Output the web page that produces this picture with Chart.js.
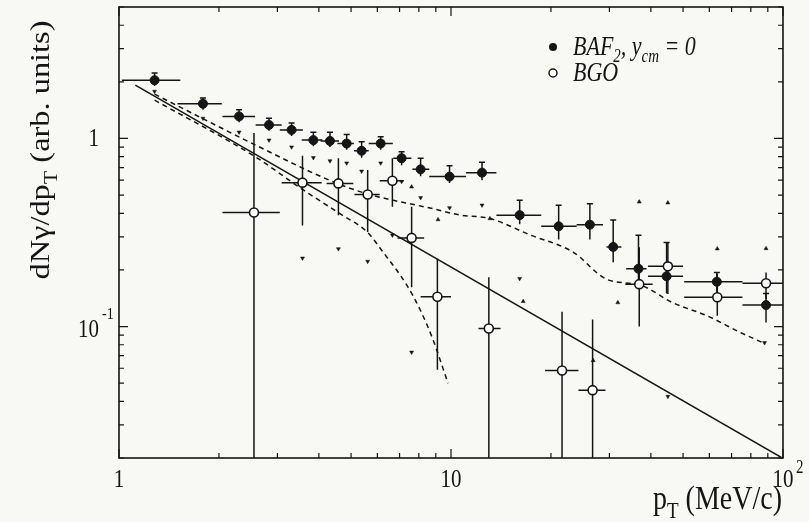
<!DOCTYPE html>
<html>
<head>
<meta charset="utf-8">
<script src="https://cdn.jsdelivr.net/npm/chart.js@4.4.1/dist/chart.umd.min.js"></script>
<style>
html, body { margin: 0; padding: 0; background: #f8f8f5; }
#wrap { width: 809px; height: 522px; position: relative; }
</style>
</head>
<body>
<div id="wrap"><canvas id="spectrum"></canvas></div>
<script>
// BaF2, y_cm = 0 (filled)
var bafX   = [1.28, 1.79, 2.30, 2.83, 3.31, 3.85, 4.32, 4.85, 5.38, 6.14, 7.10, 8.10, 9.90, 12.4, 16.1, 21.1, 26.2, 30.8, 36.7, 44.6, 63.2, 88.9];
var bafY   = [2.04, 1.53, 1.31, 1.18, 1.11, 0.98, 0.97, 0.94, 0.86, 0.94, 0.785, 0.685, 0.627, 0.658, 0.391, 0.341, 0.348, 0.265, 0.203, 0.185, 0.173, 0.13];
var bafXLo = [1.02, 1.50, 2.05, 2.58, 3.05, 3.55, 4.05, 4.55, 5.10, 5.65, 6.70, 7.65, 8.60, 11.1, 13.7, 18.7, 23.9, 29.4, 33.7, 39.2, 50.4, 75.5];
var bafXHi = [1.53, 2.04, 2.57, 3.09, 3.58, 4.10, 4.60, 5.10, 5.65, 6.68, 7.60, 8.60, 11.1, 13.7, 18.7, 23.9, 28.7, 32.6, 38.8, 50.0, 75.5, 100];
var bafYLo = [1.90, 1.42, 1.22, 1.10, 1.03, 0.91, 0.90, 0.87, 0.79, 0.87, 0.72, 0.63, 0.58, 0.60, 0.35, 0.29, 0.29, 0.22, 0.17, 0.15, 0.14, 0.105];
var bafYHi = [2.23, 1.64, 1.42, 1.28, 1.21, 1.08, 1.08, 1.05, 0.96, 1.02, 0.85, 0.785, 0.717, 0.747, 0.47, 0.442, 0.45, 0.368, 0.306, 0.28, 0.194, 0.15];

// BGO (open)
var bgoX   = [2.55, 3.57, 4.58, 5.61, 6.66, 7.61, 9.10, 13.0, 21.6, 26.7, 36.9, 45.0, 63.4, 88.9];
var bgoY   = [0.404, 0.582, 0.577, 0.504, 0.596, 0.296, 0.144, 0.0976, 0.0584, 0.0459, 0.168, 0.209, 0.143, 0.17];
var bgoXLo = [2.05, 3.09, 4.22, 5.12, 6.10, 6.90, 8.10, 12.1, 19.2, 24.2, 33.5, 39.2, 50.4, 75.5];
var bgoXHi = [3.05, 4.08, 5.08, 6.10, 7.20, 8.30, 10.0, 14.1, 24.2, 29.2, 40.5, 50.0, 75.5, 100];
var bgoYLo = [0.015, 0.345, 0.39, 0.318, 0.433, 0.162, 0.059, 0.015, 0.015, 0.015, 0.10, 0.149, 0.114, 0.14];
var bgoYHi = [1.07, 0.81, 0.785, 0.68, 0.785, 0.433, 0.229, 0.183, 0.12, 0.109, 0.264, 0.28, 0.19, 0.194];

// systematic limits
var sysUpX = [7.61, 9.14, 13.1, 16.5, 26.8, 31.8, 36.9, 45.0, 63.4, 88.9];
var sysUpY = [0.553, 0.37, 0.375, 0.136, 0.066, 0.134, 0.46, 0.455, 0.259, 0.26];
var sysLoX = [1.28, 1.79, 2.30, 2.83, 3.31, 3.85, 4.32, 4.85, 5.38, 6.14, 7.10, 8.10, 9.90, 12.4, 16.1, 3.57, 4.58, 5.61, 6.66, 7.61, 45.0, 88.0];
var sysLoY = [1.78, 1.28, 1.08, 0.98, 0.90, 0.79, 0.76, 0.74, 0.67, 0.74, 0.59, 0.484, 0.428, 0.442, 0.18, 0.231, 0.259, 0.222, 0.306, 0.073, 0.0425, 0.082];

// power-law fit
var powerX = [1.12, 100];
var powerY = [1.92, 0.0199];
// dashed curves
var flatX = [1.28, 2.57, 4.41, 5.59, 8.83, 10.6, 13.1, 17.3, 23.3, 29.5, 37.2, 46.5, 59.1, 74.4, 87.0];
var flatY = [1.72, 0.925, 0.589, 0.508, 0.423, 0.392, 0.375, 0.307, 0.249, 0.178, 0.166, 0.134, 0.114, 0.093, 0.082];
var cutX = [1.28, 2.57, 3.58, 4.64, 5.59, 6.24, 7.36, 8.07, 8.83, 9.79];
var cutY = [1.60, 0.80, 0.534, 0.397, 0.318, 0.249, 0.166, 0.123, 0.085, 0.050];

var xTicks = [1, 10, 100];
var yTicks = [0.1, 1];

var INK = '#151515';
var SERIF = '"Liberation Serif", "Times New Roman", serif';
var STRETCH = 1.2;

function pts(xs, ys) {
    return xs.map(function(x, i) { return {x: x, y: ys[i]}; });
}

// text pieces with sub/superscripts
function richText(ctx, parts, x, y, size, style, align) {
    var w = 0;
    parts.forEach(function(p) {
        var s = p[1] ? size * 0.68 : size;
        ctx.font = style + ' ' + s + 'px ' + SERIF;
        p.w = ctx.measureText(p[0]).width;
        w += p.w;
    });
    var cx = align === 'right' ? x - w : (align === 'center' ? x - w / 2 : x);
    parts.forEach(function(p) {
        var s = p[1] ? size * 0.68 : size;
        var dy = p[1] === 'sub' ? size * 0.28 : (p[1] === 'sup' ? -size * 0.42 : 0);
        ctx.font = style + ' ' + s + 'px ' + SERIF;
        ctx.fillText(p[0], cx, y + dy);
        cx += p.w;
    });
}

function errorBars(chart, xs, ys, xlo, xhi, ylo, yhi, cap) {
    var sx = chart.scales.x, sy = chart.scales.y, ctx = chart.ctx;
    ctx.beginPath();
    for (var i = 0; i < xs.length; i++) {
        var px = sx.getPixelForValue(xs[i]), py = sy.getPixelForValue(ys[i]);
        var top = sy.getPixelForValue(yhi[i]), bot = sy.getPixelForValue(ylo[i]);
        ctx.moveTo(sx.getPixelForValue(xlo[i]), py);
        ctx.lineTo(sx.getPixelForValue(xhi[i]), py);
        ctx.moveTo(px, top);
        ctx.lineTo(px, bot);
        if (cap) {
            ctx.moveTo(px - cap, top);
            ctx.lineTo(px + cap, top);
        }
    }
    ctx.stroke();
}

var bgPlugin = {
    id: 'paper',
    beforeDraw: function(chart) {
        var ctx = chart.ctx;
        ctx.save();
        ctx.fillStyle = '#f8f8f5';
        ctx.fillRect(0, 0, chart.width, chart.height);
        ctx.restore();
    }
};

var barsPlugin = {
    id: 'bars',
    beforeDatasetsDraw: function(chart) {
        var a = chart.chartArea, ctx = chart.ctx;
        ctx.save();
        ctx.beginPath();
        ctx.rect(a.left, a.top, a.right - a.left, a.bottom - a.top);
        ctx.clip();
        ctx.strokeStyle = INK;
        ctx.lineWidth = 1.5;
        errorBars(chart, bafX, bafY, bafXLo, bafXHi, bafYLo, bafYHi, 3);
        errorBars(chart, bgoX, bgoY, bgoXLo, bgoXHi, bgoYLo, bgoYHi, 0);
        ctx.restore();
    }
};

var framePlugin = {
    id: 'frame',
    afterDatasetsDraw: function(chart) {
        var a = chart.chartArea, ctx = chart.ctx;
        var sx = chart.scales.x, sy = chart.scales.y;
        ctx.save();
        ctx.strokeStyle = INK;
        ctx.lineWidth = 1.6;
        ctx.strokeRect(a.left, a.top, a.right - a.left, a.bottom - a.top);
        ctx.lineWidth = 1.2;
        ctx.beginPath();
        // x: decades 1..100
        [1, 10].forEach(function(d) {
            for (var k = 1; k <= 10; k++) {
                var v = k * d;
                if (v > 100) continue;
                var len = (k === 1 || k === 10) ? 9 : 5;
                var px = sx.getPixelForValue(v);
                ctx.moveTo(px, a.bottom); ctx.lineTo(px, a.bottom - len);
                ctx.moveTo(px, a.top); ctx.lineTo(px, a.top + len);
            }
        });
        // y: 0.02..5
        [0.01, 0.1, 1].forEach(function(d) {
            for (var k = 1; k <= 9; k++) {
                var v = k * d;
                if (v < 0.02 || v > 5) continue;
                var len = k === 1 ? 9 : 5;
                var py = sy.getPixelForValue(v);
                ctx.moveTo(a.left, py); ctx.lineTo(a.left + len, py);
                ctx.moveTo(a.right, py); ctx.lineTo(a.right - len, py);
            }
        });
        ctx.stroke();
        ctx.restore();
    },
    afterDraw: function(chart) {
        var ctx = chart.ctx, sx = chart.scales.x, sy = chart.scales.y;
        ctx.save();
        ctx.fillStyle = INK;
        ctx.textBaseline = 'alphabetic';

        // tick labels
        xTicks.forEach(function(v) {
            var px = sx.getPixelForValue(v);
            ctx.save();
            ctx.translate(px, 487);
            ctx.scale(1, STRETCH);
            if (v === 100) {
                richText(ctx, [['10']], 0, 0, 21, 'normal', 'center');
                richText(ctx, [['2']], 13, -12, 15, 'normal', 'left');
            } else {
                richText(ctx, [[String(v)]], 0, 0, 21, 'normal', 'center');
            }
            ctx.restore();
        });
        yTicks.forEach(function(v) {
            var py = sy.getPixelForValue(v);
            ctx.save();
            ctx.translate(99, py + 8);
            ctx.scale(1, STRETCH);
            if (v === 1) {
                richText(ctx, [['1']], 0, 0, 21, 'normal', 'right');
            } else {
                richText(ctx, [['10']], 0, 2, 21, 'normal', 'right');
                richText(ctx, [['-1']], 3, -13, 14, 'normal', 'left');
            }
            ctx.restore();
        });

        // axis titles
        ctx.save();
        ctx.translate(782, 509);
        ctx.scale(1, STRETCH);
        richText(ctx, [['p'], ['T', 'sub'], [' (MeV/c)']], 0, 0, 28, 'normal', 'right');
        ctx.restore();

        ctx.save();
        ctx.translate(49, 150);
        ctx.rotate(-Math.PI / 2);
        ctx.scale(STRETCH, 1);
        richText(ctx, [['dN\u03b3/dp'], ['T', 'sub'], [' (arb. units)']], 0, 0, 27, 'normal', 'center');
        ctx.restore();

        // legend
        ctx.beginPath();
        ctx.arc(553, 47, 4, 0, Math.PI * 2);
        ctx.fill();
        ctx.beginPath();
        ctx.arc(553, 73, 4, 0, Math.PI * 2);
        ctx.fillStyle = '#ffffff';
        ctx.fill();
        ctx.lineWidth = 1.5;
        ctx.strokeStyle = INK;
        ctx.stroke();
        ctx.fillStyle = INK;
        ctx.save();
        ctx.translate(573, 55);
        ctx.scale(1, STRETCH);
        richText(ctx, [['BAF'], ['2', 'sub'], [', y'], ['cm', 'sub'], [' = 0']], 0, 0, 22, 'italic', 'left');
        ctx.restore();
        ctx.save();
        ctx.translate(573, 81);
        ctx.scale(1, STRETCH);
        richText(ctx, [['BGO']], 0, 0, 22, 'italic', 'left');
        ctx.restore();

        ctx.restore();
    }
};

var ctx = document.getElementById('spectrum').getContext('2d');
var spectrumChart = new Chart(ctx, {
    type: 'scatter',
    data: {
        datasets: [{
            label: 'BAF2, y_cm = 0',
            data: pts(bafX, bafY),
            pointRadius: 4.5,
            pointBackgroundColor: INK,
            pointBorderColor: INK,
            pointBorderWidth: 1,
            order: 0
        }, {
            label: 'BGO',
            data: pts(bgoX, bgoY),
            pointRadius: 4.5,
            pointBackgroundColor: '#ffffff',
            pointBorderColor: INK,
            pointBorderWidth: 1.6,
            order: 0
        }, {
            label: 'syst up',
            data: pts(sysUpX, sysUpY),
            pointStyle: 'triangle',
            pointRadius: 2.3,
            pointBackgroundColor: INK,
            pointBorderColor: INK,
            pointBorderWidth: 0.5,
            order: 1
        }, {
            label: 'syst low',
            data: pts(sysLoX, sysLoY),
            pointStyle: 'triangle',
            rotation: 180,
            pointRadius: 2.3,
            pointBackgroundColor: INK,
            pointBorderColor: INK,
            pointBorderWidth: 0.5,
            order: 1
        }, {
            label: 'power law',
            data: pts(powerX, powerY),
            showLine: true,
            borderColor: INK,
            borderWidth: 1.5,
            pointRadius: 0,
            order: 2
        }, {
            label: 'flat',
            data: pts(flatX, flatY),
            showLine: true,
            borderColor: INK,
            borderWidth: 1.5,
            borderDash: [5, 4],
            pointRadius: 0,
            cubicInterpolationMode: 'monotone',
            order: 2
        }, {
            label: 'cutoff',
            data: pts(cutX, cutY),
            showLine: true,
            borderColor: INK,
            borderWidth: 1.5,
            borderDash: [5, 4],
            pointRadius: 0,
            cubicInterpolationMode: 'monotone',
            order: 2
        }]
    },
    options: {
        responsive: true,
        maintainAspectRatio: false,
        animation: false,
        layout: { padding: { left: 119, right: 26, top: 7, bottom: 64 } },
        plugins: { legend: { display: false }, tooltip: { enabled: false } },
        scales: {
            x: { type: 'logarithmic', min: 1, max: 100, display: false },
            y: { type: 'logarithmic', min: 0.02, max: 5, display: false }
        }
    },
    plugins: [bgPlugin, barsPlugin, framePlugin]
});
</script>
</body>
</html>
